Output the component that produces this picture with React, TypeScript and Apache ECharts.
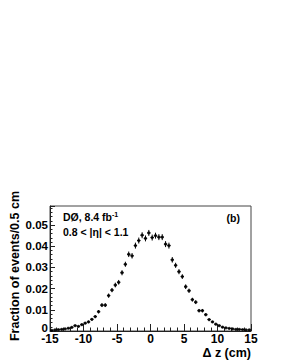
import React, { useEffect, useRef } from "react";
import * as echarts from "echarts";

const binCenters: number[] = [
  -14.75, -14.25, -13.75, -13.25, -12.75, -12.25, -11.75, -11.25, -10.75, -10.25,
  -9.75, -9.25, -8.75, -8.25, -7.75, -7.25, -6.75, -6.25, -5.75, -5.25,
  -4.75, -4.25, -3.75, -3.25, -2.75, -2.25, -1.75, -1.25, -0.75, -0.25,
  0.25, 0.75, 1.25, 1.75, 2.25, 2.75, 3.25, 3.75, 4.25, 4.75,
  5.25, 5.75, 6.25, 6.75, 7.25, 7.75, 8.25, 8.75, 9.25, 9.75,
  10.25, 10.75, 11.25, 11.75, 12.25, 12.75, 13.25, 13.75, 14.25, 14.75,
];

const fractions: number[] = [
  0.0003, 0.0005, 0.0006, 0.0008, 0.001, 0.0013, 0.0017, 0.0025, 0.0022, 0.003,
  0.0037, 0.0043, 0.0055, 0.0068, 0.0091, 0.0122, 0.0122, 0.0167, 0.0193, 0.0217,
  0.023, 0.0275, 0.0315, 0.0362, 0.0355, 0.0403, 0.0427, 0.0452, 0.0437, 0.0463,
  0.0441, 0.045, 0.0443, 0.0443, 0.041, 0.0403, 0.0336, 0.031, 0.028, 0.0257,
  0.0209, 0.019, 0.0148, 0.0136, 0.0096, 0.0096, 0.0077, 0.0054, 0.0043, 0.0032,
  0.0025, 0.0018, 0.0015, 0.0012, 0.001, 0.0008, 0.0008, 0.0007, 0.0005, 0.0005,
];

const errors: number[] = [
  0.0002, 0.0002, 0.0002, 0.0003, 0.0003, 0.0003, 0.0004, 0.0004, 0.0004, 0.0005,
  0.0005, 0.0006, 0.0006, 0.0007, 0.0008, 0.0009, 0.0009, 0.001, 0.001, 0.0011,
  0.0011, 0.0012, 0.0012, 0.0013, 0.0013, 0.0014, 0.0014, 0.0014, 0.0014, 0.0014,
  0.0014, 0.0014, 0.0014, 0.0014, 0.0014, 0.0014, 0.0013, 0.0012, 0.0012, 0.0011,
  0.0011, 0.001, 0.0009, 0.0009, 0.0008, 0.0008, 0.0007, 0.0006, 0.0005, 0.0005,
  0.0004, 0.0004, 0.0003, 0.0003, 0.0003, 0.0002, 0.0002, 0.0002, 0.0002, 0.0002,
];

const halfBin = 0.25;
const xTicks: number[] = [-15, -10, -5, 0, 5, 10, 15];
const yTicks: number[] = [0, 0.01, 0.02, 0.03, 0.04, 0.05];

const FONT = "'Liberation Sans', Arial, sans-serif";

export default function App() {
  const ref = useRef<HTMLDivElement>(null);
  useEffect(() => {
    if (!ref.current) return;
    const chart = echarts.init(ref.current, null, { renderer: "svg" });
    const points = binCenters.map((c, i) => [c, fractions[i], errors[i]]);
    chart.setOption({
      animation: false,
      backgroundColor: "#ffffff",
      grid: {
        left: 50,
        right: 30,
        top: 206,
        bottom: 32,
        show: true,
        borderColor: "#444",
        borderWidth: 1,
        backgroundColor: "transparent",
      },
      xAxis: {
        type: "value",
        min: -15,
        max: 15,
        interval: 5,
        axisLine: { show: true, onZero: false, lineStyle: { color: "#222", width: 1 } },
        axisTick: { show: true, inside: true, length: 7, lineStyle: { color: "#222" } },
        minorTick: { show: true, splitNumber: 5, length: 3.5, lineStyle: { color: "#222" } },
        splitLine: { show: false },
        axisLabel: {
          color: "#000",
          fontFamily: FONT,
          fontWeight: "bold",
          fontSize: 12,
          margin: 2,
          formatter: (v: number) => (xTicks.includes(v) ? String(v) : ""),
        },
        name: "Δ z (cm)",
        nameLocation: "end",
        nameGap: 0,
        nameTextStyle: {
          color: "#000",
          fontFamily: FONT,
          fontWeight: "bold",
          fontSize: 12.5,
          align: "right",
          verticalAlign: "top",
          padding: [15, 0, 0, 0],
        },
      },
      yAxis: {
        type: "value",
        min: 0,
        max: 0.059,
        interval: 0.01,
        axisLine: { show: true, onZero: false, lineStyle: { color: "#222", width: 1 } },
        axisTick: { show: true, inside: true, length: 5, lineStyle: { color: "#222" } },
        minorTick: { show: true, splitNumber: 5, length: 2.5, lineStyle: { color: "#222" } },
        splitLine: { show: false },
        axisLabel: {
          color: "#000",
          fontFamily: FONT,
          fontWeight: "bold",
          fontSize: 11.5,
          margin: 2,
          showMaxLabel: false,
          formatter: (v: number) => {
            const m = yTicks.find((t) => Math.abs(t - v) < 1e-9);
            return m === undefined ? "" : m === 0 ? "{z|0}" : m.toFixed(2);
          },
          rich: {
            z: {
              fontFamily: FONT,
              fontWeight: "bold",
              fontSize: 11.5,
              color: "#000",
              padding: [0, 0, 7, 0],
            },
          },
        },
      },
      graphic: [
        {
          type: "text",
          x: 15,
          y: 266,
          rotation: Math.PI / 2,
          style: {
            text: "Fraction of events/0.5 cm",
            fontFamily: FONT,
            fontWeight: "bold",
            fontSize: 12.5,
            fill: "#000",
            align: "center",
            verticalAlign: "middle",
          },
        },
        {
          type: "text",
          x: 63,
          y: 217,
          style: {
            text: "{a|DØ, 8.4 fb}{s|-1}",
            verticalAlign: "middle",
            rich: {
              a: { fontFamily: FONT, fontWeight: "bold", fontSize: 10.5, fill: "#000" },
              s: { fontFamily: FONT, fontWeight: "bold", fontSize: 7, fill: "#000", verticalAlign: "top", padding: [0, 0, 6, 0] },
            },
          },
        },
        {
          type: "text",
          x: 63,
          y: 232,
          style: {
            text: "0.8 < |η| < 1.1",
            fontFamily: FONT,
            fontWeight: "bold",
            fontSize: 10.5,
            fill: "#000",
            verticalAlign: "middle",
          },
        },
        {
          type: "text",
          x: 240,
          y: 218,
          style: {
            text: "(b)",
            fontFamily: FONT,
            fontWeight: "bold",
            fontSize: 10.5,
            fill: "#000",
            align: "right",
            verticalAlign: "middle",
          },
        },
      ],
      series: [
        {
          type: "custom",
          data: points,
          renderItem: (params: any, api: any) => {
            const c = api.value(0);
            const v = api.value(1);
            const e = api.value(2);
            const top = api.coord([c, v + e]);
            const bot = api.coord([c, v - e]);
            const l = api.coord([c - halfBin, v]);
            const r = api.coord([c + halfBin, v]);
            const style = { stroke: "#000", lineWidth: 1 };
            return {
              type: "group",
              children: [
                { type: "line", shape: { x1: top[0], y1: top[1], x2: bot[0], y2: bot[1] }, style },
                { type: "line", shape: { x1: l[0], y1: l[1], x2: r[0], y2: r[1] }, style },
              ],
            };
          },
          z: 2,
        },
        {
          type: "scatter",
          data: points.map((p) => [p[0], p[1]]),
          symbol: "circle",
          symbolSize: 3.2,
          itemStyle: { color: "#000" },
          z: 3,
        },
      ],
    });
    return () => chart.dispose();
  }, []);
  return (
    <div
      ref={ref}
      style={{ position: "fixed", left: 0, top: 0, width: 281, height: 363, background: "#fff" }}
    />
  );
}
